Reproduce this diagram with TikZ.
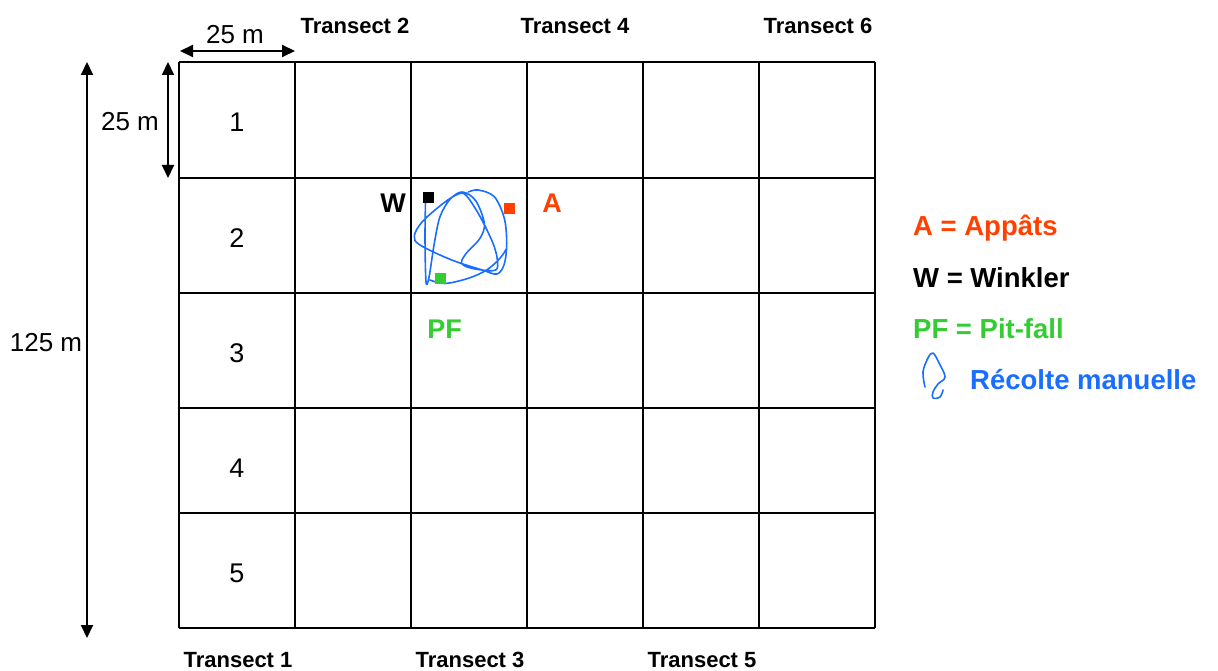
\documentclass[tikz,border=0pt]{standalone}
\usepackage{fontspec}
\setmainfont{Liberation Sans}
\usetikzlibrary{arrows.meta}
\definecolor{appred}{RGB}{255,64,0}
\definecolor{pfgreen}{RGB}{51,204,51}
\definecolor{rmblue}{RGB}{26,110,255}
\tikzset{
  gridline/.style={line width=1.5pt, black},
  dimarrow/.style={line width=2pt, {Triangle[length=13pt,width=12pt]}-{Triangle[length=13pt,width=12pt]}},
  numlbl/.style={font=\fontsize{27}{30}\selectfont, inner sep=0pt},
  dimlbl/.style={font=\fontsize{26}{30}\selectfont, inner sep=0pt},
  translbl/.style={font=\bfseries\fontsize{22}{26}\selectfont, inner sep=0pt, anchor=base},
  maplbl/.style={font=\bfseries\fontsize{27}{30}\selectfont, inner sep=0pt},
  leglbl/.style={font=\bfseries\fontsize{27.5}{30}\selectfont, inner sep=0pt, anchor=base west},
  trapsq/.style={minimum size=11pt, inner sep=0pt, draw=none},
  scrib/.style={rmblue, line width=1.6pt, line cap=round, line join=round}
}
\begin{document}
\begin{tikzpicture}[x=1pt,y=-1pt]
\useasboundingbox (0,0) rectangle (1218,671);
% grid
\foreach \x in {179,295,411,527,643,759,875}
  \draw[gridline] (\x,62) -- (\x,628);
\foreach \y in {62,178,293,408,513,628}
  \draw[gridline] (179,\y) -- (875,\y);
% row numbers
\node[numlbl] (n1) at (237,122) {1};
\node[numlbl] (n2) at (237,238) {2};
\node[numlbl] (n3) at (237,353) {3};
\node[numlbl] (n4) at (237,468) {4};
\node[numlbl] (n5) at (237,573) {5};
% dimension arrows
\coordinate (h1) at (180,51);
\coordinate (h2) at (295,51);
\draw[dimarrow] (h1) -- (h2);
\node[dimlbl] (d1) at (235,35) {25 m};
\coordinate (v1) at (168,62);
\coordinate (v2) at (168,178);
\draw[dimarrow] (v1) -- (v2);
\node[dimlbl] (d2) at (130,122) {25 m};
\coordinate (L1) at (87,62);
\coordinate (L2) at (87,638);
\draw[dimarrow] (L1) -- (L2);
\node[dimlbl] (d3) at (46,343) {125 m};
% transect labels
\node[translbl] (t2) at (355,34) {Transect 2};
\node[translbl] (t4) at (575,34) {Transect 4};
\node[translbl] (t6) at (818,34) {Transect 6};
\node[translbl] (t1) at (238,667) {Transect 1};
\node[translbl] (t3) at (470,667) {Transect 3};
\node[translbl] (t5) at (702,667) {Transect 5};
% scribble (manual collection)
\draw[scrib] plot[smooth, tension=0.55] coordinates {
 (425.7,192.7) (425,236.7) (426,281.7) (429,277.3) (434.3,243.3) (440,216.7)
 (450,199.3) (462.3,192) (475.7,200.7) (484.3,223.3) (480,238.3) (465.7,254)
 (461.7,263.3) (471.7,268.3) (492.3,270.7) (497.7,266) (494.3,246.7) (481,218.3)
 (466.7,196) (458.3,194) (443.3,203.3) (422.3,221.7) (414.3,236) (420,245)
 (451.7,260) (482.3,270) (497,274) (504.3,264) (506.7,243.3) (504.3,218.3)
 (494.3,196.7) (478.3,190) (468.3,192)}
 plot[smooth, tension=0.55] coordinates {
 (430,280) (445,283.5) (468.3,278.3) (486.7,270) (500,258.3) (506.7,248.3)};
% traps
\node[trapsq, fill=black] (wsq) at (428.5,197.5) {};
\node[trapsq, fill=appred] (asq) at (509.5,209) {};
\node[trapsq, fill=pfgreen] (pfsq) at (440.5,278) {};
\node[maplbl] (wl) at (393,203) {W};
\node[maplbl, appred] (al) at (552,203) {A};
\node[maplbl, pfgreen] (pfl) at (444.5,329) {PF};
% legend
\node[leglbl, appred] (lA) at (913,236) {A = Appâts};
\node[leglbl, black] (lW) at (913,287) {W = Winkler};
\node[leglbl, pfgreen] (lPF) at (913,338) {PF = Pit-fall};
\draw[scrib] plot[smooth, tension=0.6] coordinates {
 (925,387) (923,372) (928,358) (933,353) (939,363) (945,377) (938,384)
 (933,392) (933,398) (940,397) (943,390)};
\node[leglbl, rmblue] (lR) at (970,389) {Récolte manuelle};
\end{tikzpicture}
\end{document}
